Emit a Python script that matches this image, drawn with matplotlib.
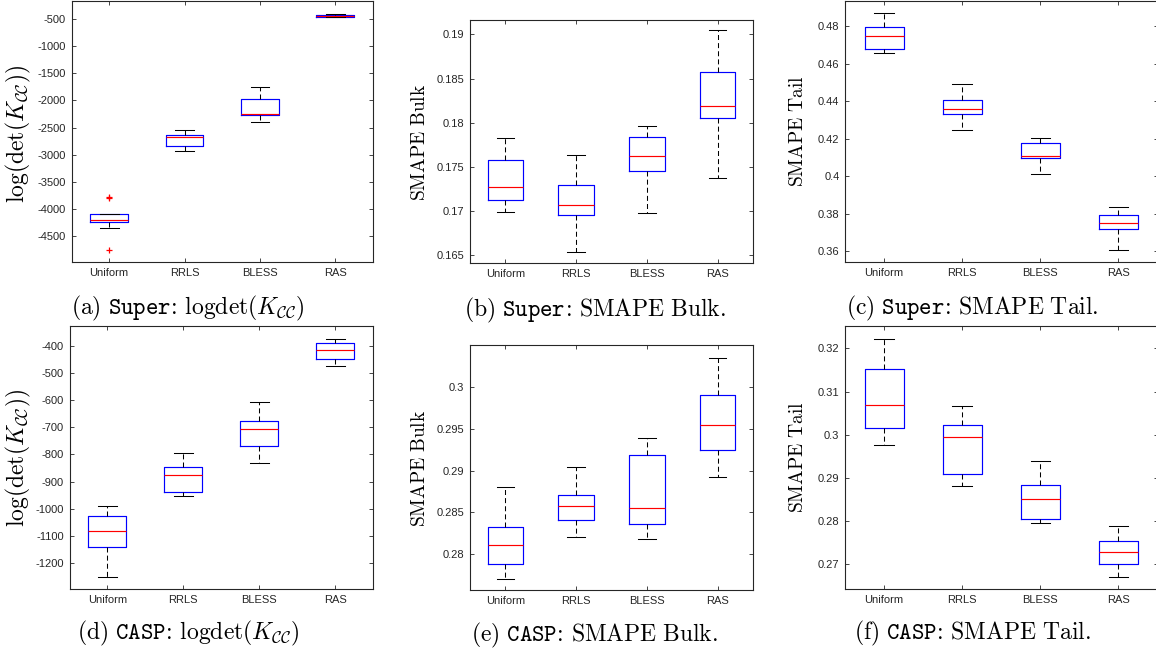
import matplotlib.pyplot as plt
from matplotlib.ticker import FuncFormatter

plt.rcParams['mathtext.fontset'] = 'cm'
plt.rcParams['font.family'] = ['Liberation Sans', 'DejaVu Sans']
plt.rcParams['axes.unicode_minus'] = False

methods = ['Uniform', 'RRLS', 'BLESS', 'RAS']

# (a) Super: logdet
a_whislo = [-4348, -2932, -2395, -466]
a_q1 = [-4250, -2833, -2272, -463]
a_med = [-4201, -2679, -2247, -445]
a_q3 = [-4091, -2630, -1975, -426]
a_whishi = [-4091, -2549, -1753, -401]
a_fliers = [[-3775, -3800, -4762], [], [], []]

# (b) Super: SMAPE Bulk
b_whislo = [0.16986, 0.16538, 0.16978, 0.17373]
b_q1 = [0.17129, 0.16952, 0.17449, 0.18055]
b_med = [0.17272, 0.17069, 0.17622, 0.18191]
b_q3 = [0.17573, 0.17291, 0.17844, 0.18571]
b_whishi = [0.17829, 0.17630, 0.17968, 0.19045]

# (c) Super: SMAPE Tail
c_whislo = [0.46568, 0.42486, 0.40100, 0.36088]
c_q1 = [0.46780, 0.43334, 0.40983, 0.37166]
c_med = [0.47487, 0.43599, 0.41107, 0.37502]
c_q3 = [0.47947, 0.44041, 0.41779, 0.37926]
c_whishi = [0.48707, 0.44925, 0.42026, 0.38385]

# (d) CASP: logdet
d_whislo = [-1250, -954, -830, -476]
d_q1 = [-1139, -940, -768, -451]
d_med = [-1080, -877, -708, -415]
d_q3 = [-1027, -848, -679, -389]
d_whishi = [-988, -796, -607, -376]

# (e) CASP: SMAPE Bulk
e_whislo = [0.27706, 0.28211, 0.28183, 0.28922]
e_q1 = [0.27881, 0.28410, 0.28358, 0.29241]
e_med = [0.28115, 0.28580, 0.28557, 0.29539]
e_q3 = [0.28322, 0.28704, 0.29181, 0.29905]
e_whishi = [0.28799, 0.29046, 0.29388, 0.30346]

# (f) CASP: SMAPE Tail
f_whislo = [0.29774, 0.28816, 0.27958, 0.26699]
f_q1 = [0.30161, 0.29102, 0.28051, 0.27000]
f_med = [0.30694, 0.29944, 0.28507, 0.27294]
f_q3 = [0.31513, 0.30215, 0.28839, 0.27549]
f_whishi = [0.32216, 0.30663, 0.29388, 0.27881]

W, H = 1156, 651
fig = plt.figure(figsize=(W / 100, H / 100), dpi=100)


def make_stats(lo, q1, med, q3, hi, fliers=None):
    out = []
    for i in range(len(methods)):
        out.append(dict(whislo=lo[i], q1=q1[i], med=med[i], q3=q3[i], whishi=hi[i],
                        fliers=fliers[i] if fliers else [], label=methods[i]))
    return out


def panel(box_px, stats, ylim, yticks, ylabel, label_xy, label_size, caption, cap_xy):
    l, t, r, b = box_px
    ax = fig.add_axes([l / W, 1 - b / H, (r - l) / W, (b - t) / H])
    ax.bxp(stats, positions=[1, 2, 3, 4], widths=0.5, showfliers=True,
           boxprops=dict(color='#0000ff', lw=0.85),
           medianprops=dict(color='#ff0000', lw=0.85),
           whiskerprops=dict(color='black', lw=0.75, linestyle=(0, (4.8, 3.0))),
           capprops=dict(color='black', lw=0.75),
           flierprops=dict(marker='+', markeredgecolor='#ff0000', markersize=5, mew=0.9))
    ax.set_xlim(0.5, 4.5)
    ax.set_ylim(*ylim)
    ax.set_yticks(yticks)
    ax.yaxis.set_major_formatter(FuncFormatter(lambda v, p: f'{round(v, 6):g}'))
    ax.set_xticks([1, 2, 3, 4])
    ax.set_xticklabels(methods)
    ax.tick_params(direction='in', length=3, width=0.6, colors='#262626',
                   labelsize=8, top=True, right=True, pad=4)
    for s in ax.spines.values():
        s.set_linewidth(0.8)
        s.set_color('#262626')
    fig.text(label_xy[0] / W, 1 - label_xy[1] / H, ylabel, rotation=90,
             ha='center', va='center', fontsize=label_size)
    fig.text(cap_xy[0] / W, 1 - cap_xy[1] / H, caption, ha='center', va='center', fontsize=17)
    return ax


logdet_label = r'$\log(\det(K_{\mathcal{CC}}))$'


def caption(tag, dataset, rest):
    # colon is a relation symbol in mathtext, pull the left gap back
    return r'$\mathrm{(' + tag + r')\ }\mathtt{' + dataset + r'}\!:\,' + rest + '$'


panel((71.5, 1, 373, 262), make_stats(a_whislo, a_q1, a_med, a_q3, a_whishi, a_fliers),
      (-4979, -168), range(-4500, 0, 500),
      logdet_label, (18, 134), 17,
      caption('a', 'Super', r'\mathrm{logdet}(K_{\mathcal{CC}})'), (188, 308))

panel((470, 20, 753, 263), make_stats(b_whislo, b_q1, b_med, b_q3, b_whishi),
      (0.16413, 0.19162), [0.165, 0.17, 0.175, 0.18, 0.185, 0.19],
      r'$\mathrm{SMAPE\ Bulk}$', (420, 142), 14,
      caption('b', 'Super', r'\mathrm{SMAPE\ Bulk.}'), (595, 310))

panel((845, 1, 1157.5, 262), make_stats(c_whislo, c_q1, c_med, c_q3, c_whishi),
      (0.35434, 0.49343), [0.36, 0.38, 0.4, 0.42, 0.44, 0.46, 0.48],
      r'$\mathrm{SMAPE\ Tail}$', (798, 131), 14,
      caption('c', 'Super', r'\mathrm{SMAPE\ Tail.}'), (972, 308))

panel((69.5, 326, 373, 589), make_stats(d_whislo, d_q1, d_med, d_q3, d_whishi),
      (-1295, -328), range(-1200, -300, 100),
      logdet_label, (18, 458), 17,
      caption('d', 'CASP', r'\mathrm{logdet}(K_{\mathcal{CC}})'), (188, 633))

panel((470, 345, 753, 590), make_stats(e_whislo, e_q1, e_med, e_q3, e_whishi),
      (0.27575, 0.30497), [0.28, 0.285, 0.29, 0.295, 0.3],
      r'$\mathrm{SMAPE\ Bulk}$', (420, 468), 14,
      caption('e', 'CASP', r'\mathrm{SMAPE\ Bulk.}'), (595, 635))

panel((845, 326, 1157.5, 589), make_stats(f_whislo, f_q1, f_med, f_q3, f_whishi),
      (0.26428, 0.32518), [0.27, 0.28, 0.29, 0.3, 0.31, 0.32],
      r'$\mathrm{SMAPE\ Tail}$', (798, 457), 14,
      caption('f', 'CASP', r'\mathrm{SMAPE\ Tail.}'), (972, 633))

fig.savefig('out.png', dpi=100, facecolor='white')
